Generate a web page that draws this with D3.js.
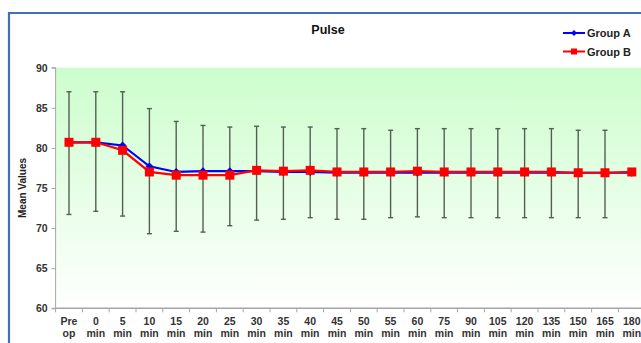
<!DOCTYPE html>
<html><head><meta charset="utf-8">
<script src="https://cdn.jsdelivr.net/npm/d3@7"></script>
<style>body{margin:0;background:#fff;}svg{display:block;font-family:Arial,"Liberation Sans",sans-serif;}</style>
</head><body>
<svg id="c" width="641" height="343"></svg>
<script>
const categories = ["Pre op","0 min","5 min","10 min","15 min","20 min","25 min","30 min","35 min","40 min","45 min","50 min","55 min","60 min","75 min","90 min","105 min","120 min","135 min","150 min","165 min","180 min"];
const groupA = [80.7,80.7,80.3,77.7,77.0,77.1,77.1,77.1,77.0,77.0,76.9,76.9,76.9,76.9,76.9,76.9,76.9,76.9,76.9,76.9,76.9,76.9];
const groupB = [80.7,80.7,79.7,77.0,76.6,76.6,76.6,77.2,77.1,77.2,77.0,77.0,77.0,77.1,77.0,77.0,77.0,77.0,77.0,76.9,76.9,77.0];
const errTop = [87.0,87.0,87.0,84.9,83.3,82.8,82.6,82.7,82.6,82.6,82.4,82.4,82.2,82.4,82.4,82.4,82.4,82.4,82.4,82.2,82.2,null];
const errBottom = [71.7,72.1,71.5,69.3,69.6,69.5,70.3,71.0,71.1,71.3,71.1,71.1,71.3,71.4,71.3,71.3,71.3,71.3,71.3,71.3,71.3,null];
const yTicks = [60,65,70,75,80,85,90];

const svg = d3.select("#c");
const left = 55.6, bandW = 26.8;
const x = d3.scaleBand().domain(categories).range([left, left + bandW*categories.length]).padding(0);
const y = d3.scaleLinear().domain([60,90]).range([308.3,67.7]);

// border
svg.append("path").attr("d","M9,345 L9,13 L645,13").attr("fill","none").attr("stroke","#3d72b6").attr("stroke-width",2.2);

// background gradient
const defs = svg.append("defs");
const g = defs.append("linearGradient").attr("id","bg").attr("x1",0).attr("y1",0).attr("x2",0).attr("y2",1);
g.append("stop").attr("offset","0%").attr("stop-color","#ccfdcc");
g.append("stop").attr("offset","100%").attr("stop-color","#ffffff");
svg.append("rect").attr("x",left).attr("y",y(90)).attr("width",700).attr("height",y(60)-y(90)).attr("fill","url(#bg)");

// axes
const yAxis = d3.axisLeft(y).tickValues(yTicks).tickSize(4).tickPadding(4);
const ya = svg.append("g").attr("transform",`translate(${left},0)`).call(yAxis);
ya.select(".domain").attr("stroke","#a6a6a6").attr("d",`M-4,${y(90)}H0V${y(60)}H-4`);
ya.selectAll(".tick line").attr("stroke","#a6a6a6");
ya.selectAll(".tick text").attr("fill","#333").style("font-size","10.5px").style("font-weight","bold");

const xa = svg.append("g").attr("transform",`translate(0,${y(60)})`);
xa.append("line").attr("x1",left).attr("x2",700).attr("y1",0).attr("y2",0).attr("stroke","#a6a6a6").attr("stroke-width",1.5);
xa.selectAll("line.tk").data(categories.concat(["_end"])).join("line").attr("class","tk")
  .attr("x1",(d,i)=>left+i*bandW).attr("x2",(d,i)=>left+i*bandW).attr("y1",0).attr("y2",4).attr("stroke","#a6a6a6");
const lbl = xa.selectAll("text").data(categories).join("text")
  .attr("text-anchor","middle").attr("fill","#333").style("font-size","10.5px").style("font-weight","bold");
lbl.each(function(d){
  const parts = d.split(" ");
  const t = d3.select(this);
  const cx = x(d)+x.bandwidth()/2;
  t.append("tspan").attr("x",cx).attr("y",17).text(parts[0]);
  t.append("tspan").attr("x",cx).attr("y",29).text(parts[1]);
});

// y title
svg.append("text").attr("transform","translate(26,188) rotate(-90)").attr("text-anchor","middle")
  .attr("fill","#222").style("font-size","10px").style("font-weight","bold").text("Mean Values");

// title
svg.append("text").attr("x",328).attr("y",34).attr("text-anchor","middle").attr("fill","#111")
  .style("font-size","12.5px").style("font-weight","bold").text("Pulse");

const cx = d => x(d)+x.bandwidth()/2;

// error bars
const eb = categories.map((c,i)=>({c,t:errTop[i],b:errBottom[i]})).filter(d=>d.t!=null);
const ebg = svg.append("g").attr("stroke","#555e55").attr("stroke-width",1.4);
ebg.selectAll("line.v").data(eb).join("line").attr("x1",d=>cx(d.c)).attr("x2",d=>cx(d.c)).attr("y1",d=>y(d.t)).attr("y2",d=>y(d.b));
ebg.selectAll("line.t").data(eb).join("line").attr("x1",d=>cx(d.c)-2.5).attr("x2",d=>cx(d.c)+2.5).attr("y1",d=>y(d.t)).attr("y2",d=>y(d.t));
ebg.selectAll("line.b").data(eb).join("line").attr("x1",d=>cx(d.c)-2.5).attr("x2",d=>cx(d.c)+2.5).attr("y1",d=>y(d.b)).attr("y2",d=>y(d.b));

// lines
const line = d3.line().x((d,i)=>cx(categories[i])).y(d=>y(d));
svg.append("path").datum(groupA).attr("d",line).attr("fill","none").attr("stroke","#0000ff").attr("stroke-width",2.2);
svg.append("path").datum(groupB).attr("d",line).attr("fill","none").attr("stroke","#ff0000").attr("stroke-width",2.2);
const diamond = d3.symbol().type(d3.symbolDiamond2).size(40);
svg.selectAll("path.ma").data(groupA).join("path").attr("class","ma")
  .attr("transform",(d,i)=>`translate(${cx(categories[i])},${y(d)})`).attr("d",diamond).attr("fill","#0000ff");
svg.selectAll("rect.mb").data(groupB).join("rect").attr("class","mb")
  .attr("x",(d,i)=>cx(categories[i])-4.5).attr("y",d=>y(d)-4.5).attr("width",9).attr("height",9).attr("fill","#ff0000");

// legend
const lg = svg.append("g");
lg.append("line").attr("x1",563).attr("x2",585).attr("y1",33).attr("y2",33).attr("stroke","#0000ff").attr("stroke-width",2);
lg.append("path").attr("transform","translate(574,33)").attr("d",d3.symbol().type(d3.symbolDiamond2).size(22)).attr("fill","#0000ff");
lg.append("text").attr("x",587).attr("y",37).attr("fill","#222").style("font-size","11px").style("font-weight","bold").text("Group A");
lg.append("line").attr("x1",563).attr("x2",585).attr("y1",51.5).attr("y2",51.5).attr("stroke","#ff0000").attr("stroke-width",2);
lg.append("rect").attr("x",571).attr("y",48.5).attr("width",6).attr("height",6).attr("fill","#ff0000");
lg.append("text").attr("x",587).attr("y",55.5).attr("fill","#222").style("font-size","11px").style("font-weight","bold").text("Group B");
</script>
</body></html>
